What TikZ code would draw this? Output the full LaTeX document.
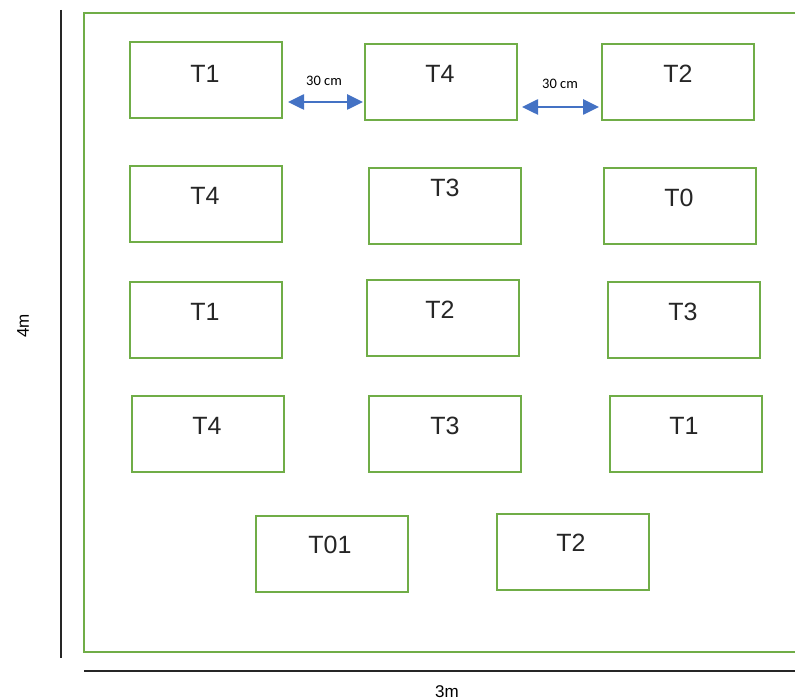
\documentclass[tikz,border=0pt]{standalone}
\usepackage{fontspec}
\setmainfont{Liberation Sans}
\newfontfamily\calib{Carlito}
\usetikzlibrary{arrows.meta}
\definecolor{offgreen}{RGB}{112,173,71}
\definecolor{offblue}{RGB}{68,114,196}
\tikzset{
  plot/.style={draw=offgreen, line width=2pt, minimum width=152pt, minimum height=76pt, inner sep=0pt},
  lab/.style={font=\fontsize{25}{25}\selectfont, text=black!85, inner sep=0pt},
  dimlab/.style={font=\calib\fontsize{14.5}{15}\selectfont, inner sep=0pt},
  dimarrow/.style={draw=offblue, line width=2.6pt, {Triangle[length=16pt,width=15pt]}-{Triangle[length=16pt,width=15pt]}},
  axis/.style={draw=black!85, line width=1.8pt}
}
\begin{document}
\begin{tikzpicture}[x=1pt,y=-1pt]
\useasboundingbox (0,0) rectangle (795,700);
% outer field
\draw[offgreen, line width=2.2pt] (797,13) -- (84,13) -- (84,652) -- (797,652);
% dimension lines
\coordinate (vtop) at (61,10);
\coordinate (vbot) at (61,658);
\draw[axis] (vtop) -- (vbot);
\coordinate (hl) at (84,671);
\coordinate (hr) at (797,671);
\draw[axis] (hl) -- (hr);
\node[font=\fontsize{17}{17}\selectfont, rotate=90] (four) at (23,326) {4m};
\node[font=\fontsize{17}{17}\selectfont] (three) at (447,692) {3m};
% row 1
\node[plot] (r1a) at (206,80) {};
\node[plot] (r1b) at (441,82) {};
\node[plot] (r1c) at (678,82) {};
\node[lab] at (205,74) {T1};
\node[lab] at (440,74) {T4};
\node[lab] at (678,74) {T2};
% row 2
\node[plot] (r2a) at (206,204) {};
\node[plot] (r2b) at (444.5,206) {};
\node[plot] (r2c) at (680,206) {};
\node[lab] at (205,196) {T4};
\node[lab] at (445,188) {T3};
\node[lab] at (679,198) {T0};
% row 3
\node[plot] (r3a) at (206,320) {};
\node[plot] (r3b) at (443,318) {};
\node[plot] (r3c) at (684,320) {};
\node[lab] at (205,312) {T1};
\node[lab] at (440,310) {T2};
\node[lab] at (683,312) {T3};
% row 4
\node[plot] (r4a) at (208,434) {};
\node[plot] (r4b) at (444.5,434) {};
\node[plot] (r4c) at (686,434) {};
\node[lab] at (207,426) {T4};
\node[lab] at (445,426) {T3};
\node[lab] at (684,426) {T1};
% row 5
\node[plot] (r5a) at (332,554) {};
\node[plot] (r5b) at (573,552) {};
\node[lab] at (330,545) {T01};
\node[lab] at (571,543) {T2};
% spacing arrows
\coordinate (a1s) at (288,102);
\coordinate (a1e) at (363,102);
\draw[dimarrow] (a1s) -- (a1e);
\node[dimlab] at (324,81) {30 cm};
\coordinate (a2s) at (522,107);
\coordinate (a2e) at (599,107);
\draw[dimarrow] (a2s) -- (a2e);
\node[dimlab] at (560,84) {30 cm};
\end{tikzpicture}
\end{document}
